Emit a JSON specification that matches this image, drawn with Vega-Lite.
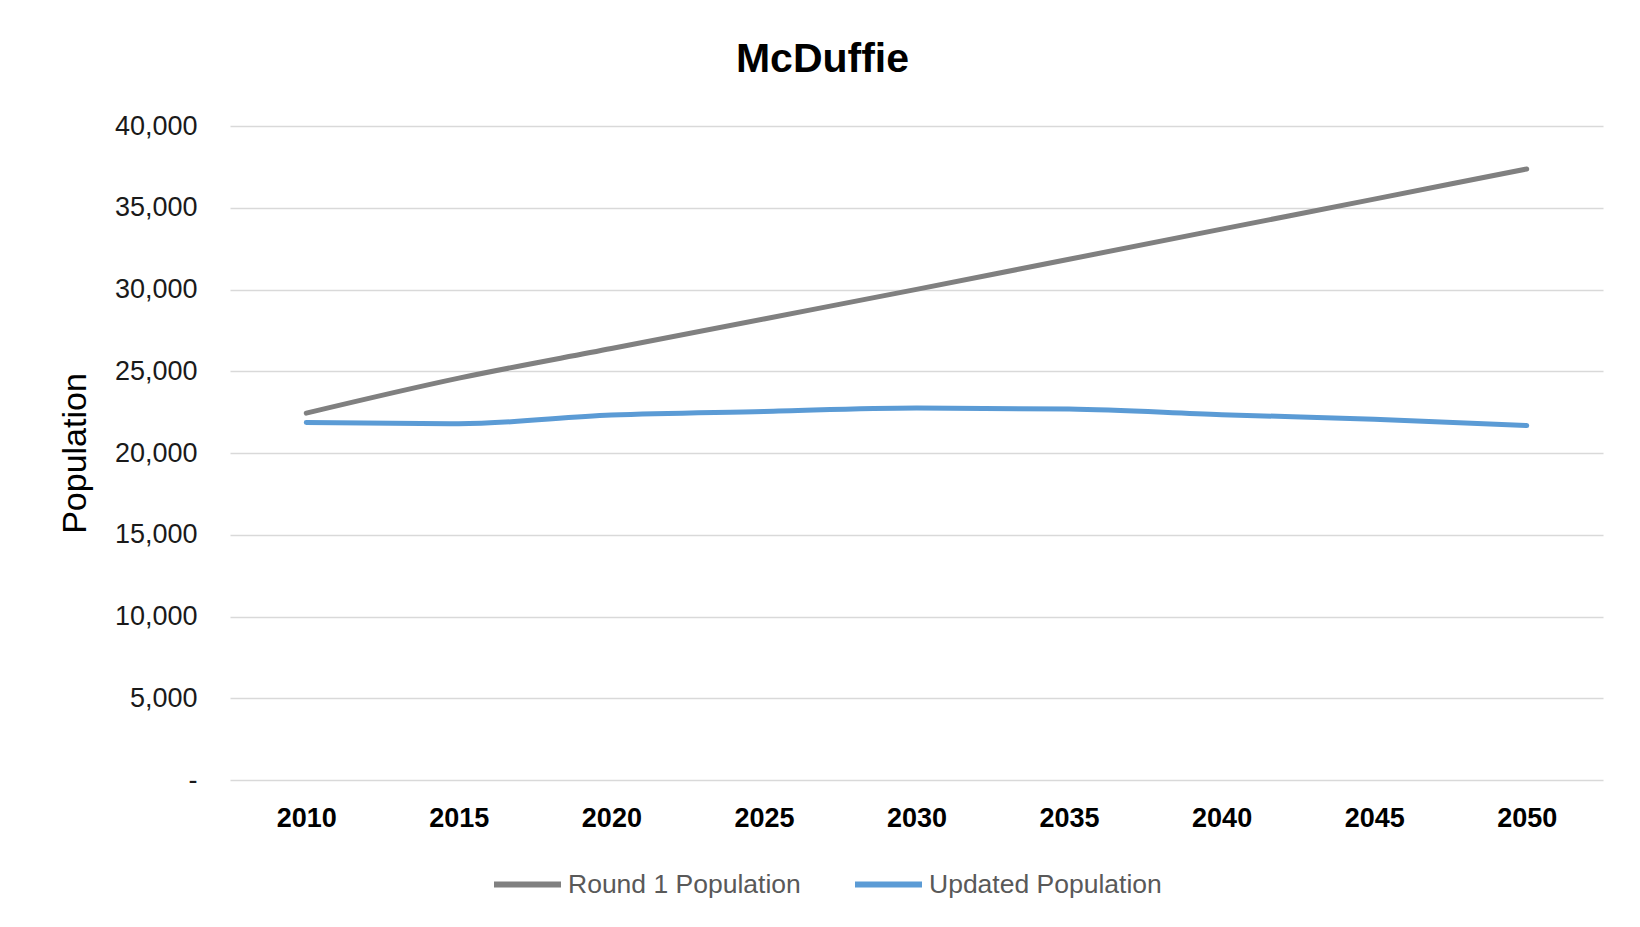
{
  "$schema": "https://vega.github.io/schema/vega-lite/v6.json",
  "width": 1373,
  "height": 654,
  "autosize": {"type": "none"},
  "padding": {"left": 230, "top": 126, "right": 37, "bottom": 147},
  "background": "white",
  "title": {
    "text": "McDuffie",
    "font": "Liberation Sans",
    "fontSize": 41,
    "fontWeight": "bold",
    "color": "#000000",
    "anchor": "middle",
    "dx": -94,
    "offset": 31
  },
  "data": {
    "values": [
      {"year": "2010", "series": "Round 1 Population", "population": 22440},
      {"year": "2015", "series": "Round 1 Population", "population": 24580},
      {"year": "2020", "series": "Round 1 Population", "population": 26390},
      {"year": "2025", "series": "Round 1 Population", "population": 28200},
      {"year": "2030", "series": "Round 1 Population", "population": 30010},
      {"year": "2035", "series": "Round 1 Population", "population": 31850},
      {"year": "2040", "series": "Round 1 Population", "population": 33690},
      {"year": "2045", "series": "Round 1 Population", "population": 35530},
      {"year": "2050", "series": "Round 1 Population", "population": 37370},
      {"year": "2010", "series": "Updated Population", "population": 21870},
      {"year": "2015", "series": "Updated Population", "population": 21790},
      {"year": "2020", "series": "Updated Population", "population": 22320},
      {"year": "2025", "series": "Updated Population", "population": 22540},
      {"year": "2030", "series": "Updated Population", "population": 22750},
      {"year": "2035", "series": "Updated Population", "population": 22690},
      {"year": "2040", "series": "Updated Population", "population": 22340},
      {"year": "2045", "series": "Updated Population", "population": 22070},
      {"year": "2050", "series": "Updated Population", "population": 21680}
    ]
  },
  "mark": {"type": "line", "strokeWidth": 5, "interpolate": "monotone", "strokeCap": "round"},
  "encoding": {
    "x": {
      "field": "year",
      "type": "ordinal",
      "scale": {"type": "point", "padding": 0.5},
      "axis": {
        "title": null,
        "labelAngle": 0,
        "labelFont": "Liberation Sans",
        "labelFontSize": 27,
        "labelFontWeight": "bold",
        "labelColor": "#000000",
        "labelPadding": 25,
        "labelBaseline": "top",
        "ticks": false,
        "domain": false,
        "grid": false
      }
    },
    "y": {
      "field": "population",
      "type": "quantitative",
      "scale": {"domain": [0, 40000], "nice": false},
      "axis": {
        "title": "Population",
        "titleFont": "Liberation Sans",
        "titleFontSize": 34,
        "titleFontWeight": "normal",
        "titleColor": "#000000",
        "titleX": -155,
        "titleY": 327,
        "titleAlign": "center",
        "titleBaseline": "middle",
        "values": [0, 5000, 10000, 15000, 20000, 25000, 30000, 35000, 40000],
        "labelExpr": "datum.value == 0 ? '-' : format(datum.value, ',')",
        "labelFont": "Liberation Sans",
        "labelFontSize": 27,
        "labelColor": "#1a1a1a",
        "labelPadding": 33,
        "ticks": false,
        "domain": false,
        "grid": true,
        "gridColor": "#D9D9D9",
        "gridWidth": 1.5
      }
    },
    "color": {
      "field": "series",
      "type": "nominal",
      "scale": {"domain": ["Round 1 Population", "Updated Population"], "range": ["#808080", "#5B9BD5"]},
      "legend": {
        "title": null,
        "orient": "none",
        "direction": "horizontal",
        "legendX": 261,
        "legendY": 722,
        "symbolType": "stroke",
        "symbolSize": 4489,
        "symbolStrokeWidth": 6,
        "labelFont": "Liberation Sans",
        "labelFontSize": 26.5,
        "labelColor": "#595959",
        "labelOffset": 4,
        "labelLimit": 0,
        "columnPadding": 42
      }
    }
  },
  "config": {"view": {"stroke": null}}
}
